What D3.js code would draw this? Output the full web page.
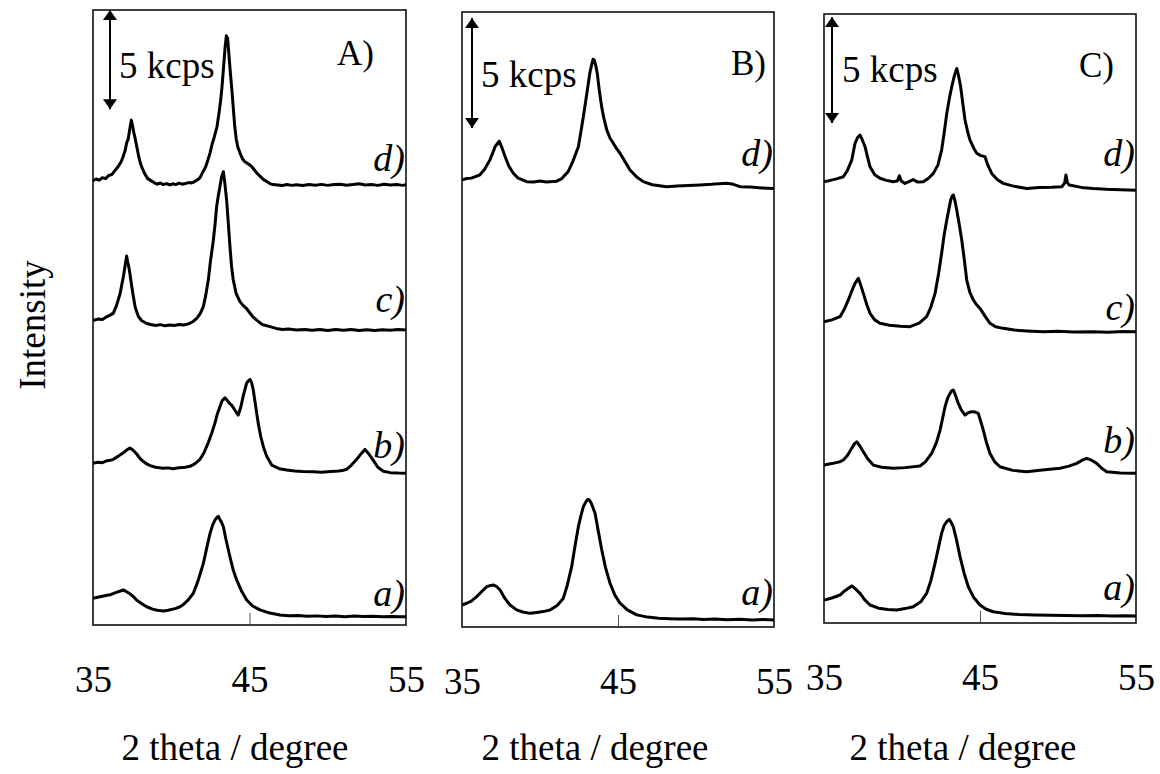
<!DOCTYPE html>
<html>
<head>
<meta charset="utf-8">
<script src="https://cdn.jsdelivr.net/npm/d3@7"></script>
<style>
  body { margin: 0; background: #fff; }
  svg { display: block; }
  text { font-family: "Liberation Serif", "Times New Roman", serif; fill: #000; }
</style>
</head>
<body>
<svg id="chart" width="1160" height="774"></svg>
<script>
// ---- data: XRD patterns, [2theta (deg), stacked intensity (kcps)] ----
const panelNames = ["A)", "B)", "C)"];
const xTicks = [35, 45, 55];
const innerTicks = [45];
const scaleBarKcps = 5;
const scaleBarText = "5 kcps";
const xTitle = "2 theta / degree";
const yTitle = "Intensity";

const A_a = [[35.0,1.35],[35.3,1.4],[35.6,1.45],[35.9,1.5],[36.09,1.52],[36.4,1.62],[36.7,1.7],[36.94,1.77],[37.2,1.65],[37.4,1.55],[37.58,1.43],[37.8,1.25],[38.1,1.08],[38.43,0.92],[38.8,0.8],[39.1,0.74],[39.49,0.71],[39.8,0.74],[40.1,0.8],[40.3,0.84],[40.56,0.92],[40.8,1.05],[41.1,1.28],[41.41,1.6],[41.7,2.2],[42.05,3.1],[42.3,4.0],[42.48,4.62],[42.65,5.05],[42.8,5.3],[42.92,5.42],[43.01,5.48],[43.12,5.3],[43.2,5.2],[43.33,4.95],[43.5,4.3],[43.75,3.44],[43.95,2.8],[44.18,2.27],[44.5,1.7],[44.82,1.26],[45.2,0.96],[45.67,0.76],[46.3,0.6],[46.95,0.5],[47.5,0.47],[48.1,0.48],[48.7,0.44],[49.3,0.46],[49.9,0.43],[50.5,0.45],[51.1,0.42],[51.7,0.45],[52.3,0.43],[52.9,0.44],[53.5,0.41],[54.1,0.43],[54.6,0.42],[55.0,0.42]];
const A_b = [[35.0,8.15],[35.3,8.2],[35.6,8.18],[35.9,8.28],[36.1,8.3],[36.3,8.35],[36.6,8.5],[36.94,8.68],[37.15,8.82],[37.36,8.92],[37.55,8.82],[37.79,8.62],[38.0,8.4],[38.2,8.25],[38.43,8.12],[38.7,8.02],[39.0,7.95],[39.49,7.9],[39.8,7.92],[40.1,7.88],[40.5,7.93],[40.9,7.95],[41.2,8.0],[41.5,8.12],[41.84,8.35],[42.1,8.7],[42.37,9.2],[42.6,9.7],[42.8,10.2],[42.95,10.65],[43.11,11.0],[43.25,11.3],[43.43,11.45],[43.6,11.3],[43.75,11.15],[43.86,11.08],[44.05,10.85],[44.28,10.58],[44.45,11.0],[44.6,11.55],[44.72,11.9],[44.82,12.2],[44.92,12.3],[45.03,12.38],[45.14,12.2],[45.24,11.85],[45.4,11.0],[45.56,10.15],[45.72,9.5],[45.88,9.0],[46.1,8.5],[46.42,8.06],[46.9,7.88],[47.38,7.81],[47.9,7.76],[48.4,7.74],[49.08,7.73],[49.6,7.7],[50.2,7.74],[50.7,7.76],[51.0,7.8],[51.21,7.85],[51.5,8.05],[51.85,8.35],[52.15,8.65],[52.38,8.85],[52.6,8.65],[52.91,8.3],[53.2,7.95],[53.55,7.75],[54.0,7.68],[54.5,7.66],[55.0,7.65]];
const A_c = [[35.0,15.35],[35.3,15.42],[35.6,15.4],[35.9,15.55],[36.1,15.62],[36.3,15.72],[36.5,16.1],[36.73,16.7],[36.85,17.2],[36.94,17.55],[37.05,18.1],[37.15,18.6],[37.22,18.3],[37.3,18.0],[37.36,17.7],[37.45,17.2],[37.58,16.55],[37.7,16.0],[37.9,15.55],[38.1,15.35],[38.43,15.2],[38.7,15.15],[39.0,15.1],[39.3,15.14],[39.6,15.08],[39.9,15.12],[40.2,15.1],[40.5,15.15],[40.8,15.12],[41.1,15.18],[41.4,15.3],[41.63,15.46],[41.85,15.7],[42.05,16.05],[42.2,16.6],[42.37,17.4],[42.5,18.3],[42.69,19.4],[42.8,20.2],[42.9,21.1],[43.0,21.6],[43.11,22.1],[43.22,22.6],[43.33,22.85],[43.42,22.3],[43.54,21.4],[43.65,20.2],[43.75,19.1],[43.85,18.1],[43.96,17.4],[44.15,16.7],[44.39,16.3],[44.6,16.1],[44.82,15.95],[45.0,15.75],[45.2,15.55],[45.46,15.37],[45.8,15.15],[46.31,15.04],[46.7,14.95],[47.1,14.9],[47.5,14.92],[48.0,14.87],[48.5,14.9],[49.0,14.86],[49.5,14.9],[50.0,14.85],[50.5,14.89],[51.0,14.86],[51.5,14.9],[52.0,14.85],[52.5,14.88],[53.0,14.84],[53.5,14.88],[54.0,14.86],[54.5,14.89],[55.0,14.87]];
const A_d = [[35.0,22.4],[35.2,22.48],[35.4,22.42],[35.6,22.55],[35.8,22.5],[36.0,22.66],[36.2,22.7],[36.4,22.9],[36.6,23.1],[36.8,23.35],[36.92,23.6],[37.05,23.9],[37.15,24.3],[37.25,24.5],[37.35,25.0],[37.45,25.45],[37.52,25.2],[37.6,24.85],[37.7,24.5],[37.8,24.1],[37.9,23.7],[38.0,23.35],[38.13,23.05],[38.3,22.75],[38.5,22.5],[38.7,22.4],[38.9,22.3],[39.1,22.22],[39.3,22.28],[39.5,22.2],[39.7,22.25],[39.9,22.18],[40.1,22.24],[40.3,22.2],[40.5,22.27],[40.7,22.22],[40.9,22.25],[41.1,22.3],[41.3,22.28],[41.5,22.35],[41.7,22.45],[41.84,22.55],[42.0,22.8],[42.2,23.1],[42.35,23.45],[42.48,23.8],[42.6,24.2],[42.75,24.6],[42.92,25.1],[43.05,25.8],[43.15,26.4],[43.24,27.1],[43.32,27.9],[43.38,28.5],[43.45,29.2],[43.52,29.7],[43.56,29.45],[43.6,29.6],[43.66,29.0],[43.72,28.4],[43.78,27.8],[43.86,27.1],[43.95,26.2],[44.05,25.2],[44.15,24.5],[44.25,24.1],[44.39,23.8],[44.55,23.5],[44.7,23.35],[44.85,23.28],[45.0,23.2],[45.15,23.1],[45.3,22.95],[45.5,22.75],[45.7,22.6],[45.9,22.45],[46.1,22.35],[46.3,22.25],[46.5,22.2],[46.8,22.18],[47.1,22.15],[47.4,22.2],[47.7,22.16],[48.0,22.19],[48.4,22.15],[48.8,22.2],[49.2,22.17],[49.6,22.21],[50.0,22.16],[50.4,22.2],[50.8,22.22],[51.2,22.17],[51.6,22.2],[52.0,22.24],[52.4,22.18],[52.8,22.2],[53.2,22.16],[53.6,22.22],[54.0,22.18],[54.4,22.2],[54.8,22.16],[55.0,22.2]];

const B_a = [[35.0,1.0],[35.3,1.08],[35.6,1.18],[35.94,1.38],[36.25,1.6],[36.58,1.83],[36.8,1.88],[37.0,1.91],[37.2,1.85],[37.44,1.68],[37.75,1.3],[38.08,1.0],[38.5,0.78],[38.9,0.68],[39.36,0.62],[39.8,0.66],[40.2,0.7],[40.64,0.77],[41.1,0.98],[41.49,1.3],[41.75,1.9],[42.03,2.74],[42.25,3.7],[42.46,4.56],[42.62,5.05],[42.78,5.47],[42.95,5.7],[43.08,5.8],[43.16,5.78],[43.3,5.6],[43.53,5.17],[43.75,4.3],[43.96,3.5],[44.2,2.7],[44.49,1.99],[44.8,1.45],[45.13,1.08],[45.6,0.78],[46.2,0.55],[46.9,0.45],[47.6,0.4],[48.3,0.38],[49.0,0.36],[49.8,0.37],[50.5,0.34],[51.2,0.36],[52.0,0.33],[52.8,0.35],[53.6,0.32],[54.3,0.34],[55.0,0.32]];
const B_d = [[35.0,20.32],[35.3,20.38],[35.6,20.4],[35.9,20.48],[36.15,20.55],[36.45,20.8],[36.79,21.23],[37.0,21.6],[37.12,21.83],[37.25,21.95],[37.39,22.08],[37.55,21.8],[37.76,21.38],[38.0,20.95],[38.29,20.62],[38.6,20.4],[39.15,20.24],[39.6,20.22],[40.0,20.27],[40.4,20.22],[40.8,20.25],[41.07,20.26],[41.4,20.38],[41.81,20.7],[42.1,21.15],[42.46,21.83],[42.62,22.5],[42.78,23.2],[42.95,24.0],[43.1,24.71],[43.2,25.2],[43.31,25.55],[43.4,25.8],[43.48,25.77],[43.58,25.5],[43.67,25.17],[43.8,24.4],[43.95,23.65],[44.1,23.1],[44.28,22.59],[44.5,22.2],[44.7,21.99],[44.9,21.75],[45.13,21.53],[45.45,21.15],[45.77,20.77],[46.2,20.45],[46.62,20.24],[47.2,20.1],[48.12,20.01],[48.8,20.04],[49.5,20.06],[50.26,20.09],[51.0,20.12],[51.5,20.15],[51.97,20.17],[52.4,20.12],[52.82,20.01],[53.5,20.0],[54.2,19.95],[55.0,19.93]];

const C_a = [[35.0,1.08],[35.5,1.18],[36.03,1.32],[36.3,1.5],[36.56,1.64],[36.78,1.75],[37.0,1.62],[37.31,1.4],[37.6,1.1],[37.95,0.85],[38.5,0.7],[39.1,0.64],[39.66,0.61],[40.2,0.68],[40.72,0.77],[41.2,1.0],[41.58,1.4],[41.85,2.0],[42.12,2.82],[42.35,3.6],[42.54,4.23],[42.7,4.6],[42.87,4.78],[43.03,4.89],[43.15,4.75],[43.29,4.54],[43.5,3.9],[43.72,3.13],[43.98,2.35],[44.25,1.71],[44.6,1.2],[45.0,0.85],[45.4,0.65],[45.85,0.53],[46.6,0.45],[47.5,0.4],[48.5,0.38],[49.5,0.36],[50.5,0.35],[51.5,0.34],[52.5,0.35],[53.5,0.33],[54.3,0.34],[55.0,0.33]];
const C_b = [[35.0,7.45],[35.5,7.52],[36.0,7.6],[36.24,7.69],[36.5,7.9],[36.78,8.24],[36.95,8.45],[37.1,8.55],[37.3,8.35],[37.52,8.08],[37.8,7.75],[38.16,7.45],[38.7,7.35],[39.44,7.3],[40.2,7.33],[41.15,7.41],[41.5,7.6],[41.9,8.0],[42.2,8.5],[42.44,9.1],[42.6,9.65],[42.76,10.2],[42.92,10.6],[43.08,10.83],[43.18,10.95],[43.29,10.99],[43.45,10.7],[43.61,10.36],[43.8,10.05],[44.04,9.81],[44.25,9.92],[44.47,9.97],[44.7,9.95],[44.89,9.89],[45.05,9.5],[45.21,9.1],[45.42,8.5],[45.64,8.0],[45.95,7.6],[46.28,7.37],[47.1,7.2],[47.99,7.14],[49.0,7.22],[50.13,7.3],[50.7,7.4],[51.2,7.53],[51.55,7.68],[51.84,7.77],[52.15,7.68],[52.48,7.53],[52.8,7.3],[53.12,7.14],[54.0,7.08],[55.0,7.06]];
const C_c = [[35.0,14.21],[35.5,14.3],[36.03,14.45],[36.3,14.8],[36.56,15.24],[36.8,15.7],[36.99,16.02],[37.2,16.26],[37.35,15.95],[37.52,15.55],[37.75,15.0],[37.95,14.61],[38.25,14.3],[38.59,14.14],[39.2,14.05],[39.9,14.0],[40.51,13.98],[41.1,14.15],[41.58,14.45],[41.85,14.9],[42.12,15.55],[42.35,16.5],[42.54,17.44],[42.7,18.3],[42.87,19.01],[43.0,19.5],[43.12,19.95],[43.22,20.15],[43.29,20.19],[43.4,19.9],[43.51,19.48],[43.67,18.8],[43.83,18.07],[44.0,17.1],[44.15,16.18],[44.35,15.6],[44.57,15.24],[44.8,15.0],[45.0,14.84],[45.3,14.5],[45.64,14.14],[46.0,13.98],[46.49,13.9],[47.2,13.82],[48.0,13.78],[49.06,13.74],[50.0,13.76],[51.0,13.73],[52.26,13.74],[53.2,13.72],[54.2,13.75],[55.0,13.74]];
const C_d = [[35.0,20.82],[35.4,20.88],[35.8,20.95],[36.24,21.05],[36.5,21.35],[36.78,21.84],[36.99,22.63],[37.15,22.9],[37.31,23.02],[37.45,22.8],[37.63,22.47],[37.8,21.95],[37.95,21.52],[38.25,21.15],[38.59,20.98],[39.0,20.88],[39.44,20.82],[39.7,20.85],[39.83,21.1],[39.95,20.85],[40.19,20.74],[40.45,20.82],[40.72,20.92],[41.0,20.8],[41.37,20.82],[41.7,20.98],[42.01,21.21],[42.3,21.6],[42.54,22.31],[42.7,23.1],[42.87,24.04],[43.05,24.8],[43.19,25.3],[43.35,25.8],[43.51,26.16],[43.63,25.8],[43.76,25.3],[43.9,24.5],[44.04,23.73],[44.2,23.2],[44.36,22.78],[44.6,22.4],[44.79,22.16],[45.05,22.05],[45.32,22.0],[45.5,21.6],[45.75,21.21],[46.1,20.92],[46.49,20.74],[47.2,20.6],[47.99,20.5],[48.8,20.55],[49.6,20.56],[50.24,20.58],[50.42,20.75],[50.51,21.13],[50.6,20.78],[50.72,20.66],[51.5,20.55],[52.26,20.5],[53.1,20.46],[54.0,20.44],[55.0,20.42]];

// ---- layout ----
const panels = [
  { name: panelNames[0], left: 93,  right: 406,  top: 10, bottom: 625, yMax: 31.0,
    nameX: 374, nameY: 65, barX: 110, barTop: 10, barTextX: 119, barTextY: 78, titleX: 235,
    curves: [ {label: "a)", data: A_a, dy: 11}, {label: "b)", data: A_b, dy: 15},
              {label: "c)", data: A_c, dy: 18}, {label: "d)", data: A_d, dy: 14} ] },
  { name: panelNames[1], left: 462, right: 774,  top: 12, bottom: 627, yMax: 27.95,
    nameX: 766, nameY: 75, barX: 472, barTop: 18, barTextX: 481, barTextY: 87, titleX: 595,
    curves: [ {label: "a)", data: B_a, dy: 15}, {label: "d)", data: B_d, dy: 22} ] },
  { name: panelNames[2], left: 824, right: 1136, top: 14, bottom: 623, yMax: 28.73,
    nameX: 1114, nameY: 77, barX: 832, barTop: 17, barTextX: 842, barTextY: 82, titleX: 963,
    curves: [ {label: "a)", data: C_a, dy: 16}, {label: "b)", data: C_b, dy: 20},
              {label: "c)", data: C_c, dy: 12}, {label: "d)", data: C_d, dy: 24} ] }
];

const svg = d3.select("#chart");

// arrowhead markers for the intensity scale bar
const defs = svg.append("defs");
defs.append("marker")
  .attr("id", "head").attr("viewBox", "0 0 10 14")
  .attr("refX", 10).attr("refY", 7)
  .attr("markerWidth", 10).attr("markerHeight", 14)
  .attr("markerUnits", "userSpaceOnUse")
  .attr("orient", "auto-start-reverse")
  .append("path").attr("d", "M0,0 L10,7 L0,14 Z").attr("fill", "#000");

panels.forEach(p => {
  const x = d3.scaleLinear().domain([35, 55]).range([p.left, p.right]);
  const y = d3.scaleLinear().domain([0, p.yMax]).range([p.bottom, p.top]);
  const g = svg.append("g");

  // inward tick at 45 on the bottom edge
  g.append("g")
    .attr("transform", `translate(0,${p.bottom})`)
    .call(d3.axisBottom(x).tickValues(innerTicks).tickSize(-12).tickFormat(""))
    .call(a => a.select(".domain").remove())
    .call(a => a.selectAll("line").attr("stroke", "#555").attr("stroke-width", 1));

  // tick labels well below the frame
  g.append("g")
    .attr("transform", `translate(0,${p.bottom})`)
    .call(d3.axisBottom(x).tickValues(xTicks).tickSize(0).tickPadding(0).tickFormat(d3.format("d")))
    .call(a => a.select(".domain").remove())
    .call(a => a.selectAll("text")
      .attr("y", 67).attr("dy", null)
      .style("font-family", '"Liberation Serif", serif')
      .style("font-size", "37px").attr("fill", "#000"));

  // frame
  g.append("rect")
    .attr("x", p.left).attr("y", p.top)
    .attr("width", p.right - p.left).attr("height", p.bottom - p.top)
    .attr("fill", "none").attr("stroke", "#111").attr("stroke-width", 1.6);

  // patterns
  const line = d3.line().x(d => x(d[0])).y(d => y(d[1]));
  p.curves.forEach(c => {
    g.append("path")
      .datum(c.data)
      .attr("d", line)
      .attr("fill", "none")
      .attr("stroke", "#000")
      .attr("stroke-width", 3)
      .attr("stroke-linejoin", "round");
    const last = c.data[c.data.length - 1];
    g.append("text")
      .attr("x", p.right - 1)
      .attr("y", y(last[1]) - c.dy)
      .attr("text-anchor", "end")
      .style("font-size", "38px")
      .style("font-style", "italic")
      .text(c.label);
  });

  // 5 kcps scale bar
  const barLen = y(0) - y(scaleBarKcps);
  g.append("line")
    .attr("x1", p.barX).attr("x2", p.barX)
    .attr("y1", p.barTop).attr("y2", p.barTop + barLen)
    .attr("stroke", "#000").attr("stroke-width", 2)
    .attr("marker-start", "url(#head)").attr("marker-end", "url(#head)");
  g.append("text")
    .attr("x", p.barTextX).attr("y", p.barTextY)
    .style("font-size", "37px")
    .text(scaleBarText);

  // panel letter
  g.append("text")
    .attr("x", p.nameX).attr("y", p.nameY)
    .attr("text-anchor", "end")
    .style("font-size", "35px")
    .text(p.name);

  // x title
  g.append("text")
    .attr("x", p.titleX).attr("y", 760)
    .attr("text-anchor", "middle")
    .style("font-size", "37px")
    .text(xTitle);
});

// y title
svg.append("text")
  .attr("transform", "translate(45,325) rotate(-90)")
  .attr("text-anchor", "middle")
  .style("font-size", "37px")
  .text(yTitle);
</script>
</body>
</html>
